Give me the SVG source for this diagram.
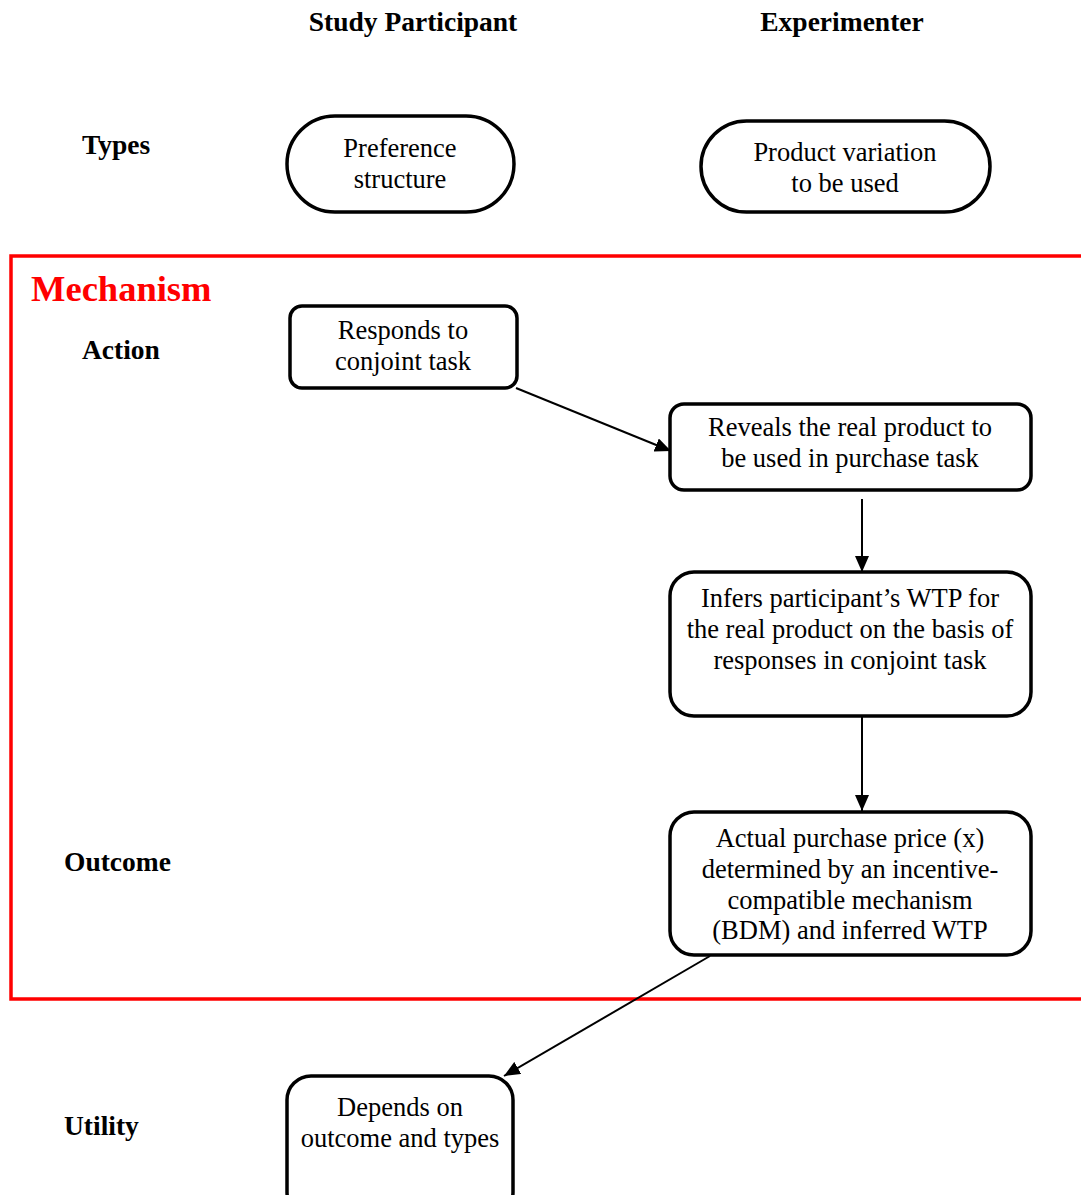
<svg xmlns="http://www.w3.org/2000/svg" width="1081" height="1195" viewBox="0 0 1081 1195">
<style>
.hd{font-family:"Liberation Serif","Times New Roman",serif;font-weight:bold;font-size:27.5px;fill:#000}
.t{font-family:"Liberation Serif","Times New Roman",serif;font-size:26.5px;fill:#000;text-anchor:middle}
.n{fill:#fff;stroke:#000;stroke-width:3.5}
.c{stroke:#000;stroke-width:2;fill:none;marker-end:url(#ah)}
</style>
<defs>
<marker id="ah" markerWidth="16" markerHeight="14" refX="16" refY="7" orient="auto" markerUnits="userSpaceOnUse" viewBox="0 0 16 14">
<path d="M0,0 L16,7 L0,14 z" fill="#000"/>
</marker>
</defs>
<rect width="1081" height="1195" fill="#fff"/>
<g id="headers">
<text class="hd" x="413" y="31" text-anchor="middle">Study Participant</text>
<text class="hd" x="842" y="31" text-anchor="middle">Experimenter</text>
<text class="hd" x="82" y="154">Types</text>
<text class="hd" x="82" y="359">Action</text>
<text class="hd" x="64" y="871">Outcome</text>
<text class="hd" x="64" y="1135">Utility</text>
</g>
<g id="mechanism">
<rect x="11" y="256" width="1080" height="743" fill="none" stroke="#f00" stroke-width="3.5"/>
<text x="31" y="301" font-family="Liberation Serif,Times New Roman,serif" font-weight="bold" font-size="36.5" fill="#f00">Mechanism</text>
</g>
<g id="connectors">
<line class="c" x1="516" y1="388" x2="671" y2="451"/>
<line class="c" x1="862" y1="499" x2="862" y2="572"/>
<line class="c" x1="862" y1="717" x2="862" y2="811"/>
<line class="c" x1="710" y1="956" x2="504" y2="1076"/>
</g>
<g id="preference">
<rect class="n" x="287" y="116" width="227" height="96" rx="48"/>
<text class="t" x="400" y="157">Preference</text>
<text class="t" x="400" y="188">structure</text>
</g>
<g id="product">
<rect class="n" x="701" y="121" width="289" height="91" rx="45.5"/>
<text class="t" x="845" y="161">Product variation</text>
<text class="t" x="845" y="192">to be used</text>
</g>
<g id="responds">
<rect class="n" x="290" y="306" width="227" height="82" rx="12"/>
<text class="t" x="403" y="339">Responds to</text>
<text class="t" x="403" y="370">conjoint task</text>
</g>
<g id="reveals">
<rect class="n" x="670" y="404" width="361" height="86" rx="14"/>
<text class="t" x="850" y="436">Reveals the real product to</text>
<text class="t" x="850" y="467">be used in purchase task</text>
</g>
<g id="infers">
<rect class="n" x="670" y="572" width="361" height="144" rx="24"/>
<text class="t" x="850" y="607">Infers participant’s WTP for</text>
<text class="t" x="850" y="638">the real product on the basis of</text>
<text class="t" x="850" y="669">responses in conjoint task</text>
</g>
<g id="actual">
<rect class="n" x="670" y="812" width="361" height="143" rx="24"/>
<text class="t" x="850" y="847">Actual purchase price (x)</text>
<text class="t" x="850" y="878">determined by an incentive-</text>
<text class="t" x="850" y="909">compatible mechanism</text>
<text class="t" x="850" y="939">(BDM) and inferred WTP</text>
</g>
<g id="utility">
<rect class="n" x="287" y="1076" width="226" height="140" rx="24"/>
<text class="t" x="400" y="1116">Depends on</text>
<text class="t" x="400" y="1147">outcome and types</text>
</g>
</svg>
